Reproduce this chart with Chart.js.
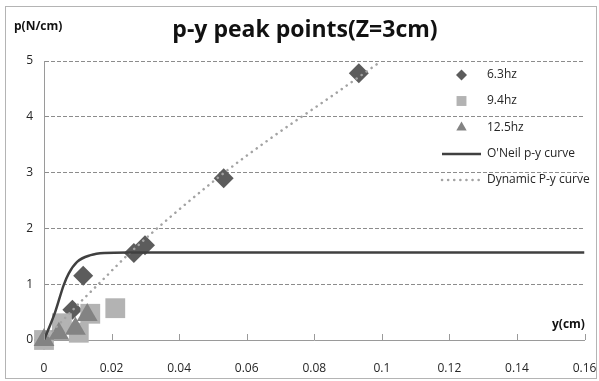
<!DOCTYPE html>
<html>
<head>
<meta charset="utf-8">
<script src="https://cdn.jsdelivr.net/npm/chart.js@4/dist/chart.umd.min.js"></script>
<style>
  html, body { margin: 0; padding: 0; background: #fff; }
  #wrap { position: relative; width: 599px; height: 381px; }
</style>
</head>
<body>
<div id="wrap"><canvas id="chart" width="599" height="381"></canvas></div>
<script>
// tick labels
const xTicks = ['0', '0.02', '0.04', '0.06', '0.08', '0.1', '0.12', '0.14', '0.16'];
const yTicks = ['0', '1', '2', '3', '4', '5'];

// peak points, y(cm) / p(N/cm)
const hz63Y = [0, 0.0084, 0.0116, 0.0266, 0.0299, 0.0532, 0.0932];
const hz63P = [0, 0.54, 1.15, 1.56, 1.70, 2.90, 4.78];
const hz94Y = [0, 0.0053, 0.0103, 0.0137, 0.0211];
const hz94P = [0, 0.30, 0.13, 0.47, 0.57];
const hz125Y = [0, 0.0044, 0.0093, 0.0128];
const hz125P = [0, 0.11, 0.20, 0.45];

// curves
const oneilY = [0, 0.0033, 0.0058, 0.0073, 0.0098, 0.0138, 0.0178, 0.025, 0.16];
const oneilP = [0, 0.50, 0.98, 1.19, 1.40, 1.52, 1.56, 1.57, 1.57];
const dynY = [0, 0.0111, 0.0166, 0.0254, 0.0511, 0.0663, 0.0861, 0.0994];
const dynP = [0, 0.70, 1.03, 1.56, 2.89, 3.58, 4.41, 4.98];

const labels = ['6.3hz', '9.4hz', '12.5hz', "O'Neil p-y curve", 'Dynamic P-y curve'];

const pts = (xs, ys) => xs.map((x, i) => ({ x: x, y: ys[i] }));
const FONT = 'Open Sans';
const TXT = '#262626';

function marker(ctx, style, x, y, r, color) {
  ctx.save();
  ctx.fillStyle = color;
  ctx.beginPath();
  if (style === 'rectRot') {
    ctx.moveTo(x, y - r); ctx.lineTo(x + r, y); ctx.lineTo(x, y + r); ctx.lineTo(x - r, y);
  } else if (style === 'rect') {
    const s = r * Math.SQRT1_2;
    ctx.rect(x - s, y - s, 2 * s, 2 * s);
  } else {
    const h = r * Math.sqrt(3) / 2;
    ctx.moveTo(x, y - r); ctx.lineTo(x + h, y + r / 2); ctx.lineTo(x - h, y + r / 2);
  }
  ctx.closePath();
  ctx.fill();
  ctx.restore();
}

const decor = {
  id: 'decor',
  beforeDraw(chart) {
    const ctx = chart.ctx;
    ctx.save();
    ctx.fillStyle = '#fff';
    ctx.fillRect(0, 0, chart.width, chart.height);
    ctx.strokeStyle = '#b4b4b4';
    ctx.lineWidth = 1;
    ctx.strokeRect(5.5, 6.5, 591, 372);
    ctx.restore();
  },
  afterDraw(chart) {
    const ctx = chart.ctx;
    const xs = chart.scales.x;
    const area = chart.chartArea;
    ctx.save();
    // inner ticks on the x axis
    ctx.strokeStyle = '#9a9a9a';
    ctx.lineWidth = 1;
    xTicks.forEach(t => {
      const px = Math.round(xs.getPixelForValue(parseFloat(t))) + 0.5;
      ctx.beginPath();
      ctx.moveTo(px, area.bottom);
      ctx.lineTo(px, area.bottom - 6);
      ctx.stroke();
    });
    // titles
    ctx.fillStyle = '#111';
    ctx.textBaseline = 'alphabetic';
    ctx.textAlign = 'center';
    ctx.font = 'bold 23px ' + FONT;
    ctx.fillText('p-y peak points(Z=3cm)', 305, 37);
    ctx.textBaseline = 'middle';
    ctx.textAlign = 'left';
    ctx.font = 'bold 12px ' + FONT;
    ctx.fillText('p(N/cm)', 14, 27);
    ctx.fillText('y(cm)', 552, 325);
    // legend
    const rows = [75, 101, 127.5, 154, 180];
    const ds = chart.data.datasets;
    ctx.font = '12px ' + FONT;
    ds.forEach((d, i) => {
      const y = rows[i];
      if (d.showLine) {
        ctx.save();
        ctx.strokeStyle = d.borderColor;
        ctx.lineWidth = d.borderWidth;
        ctx.lineCap = d.borderCapStyle || 'butt';
        ctx.setLineDash(d.borderDash || []);
        ctx.beginPath();
        ctx.moveTo(442, y);
        ctx.lineTo(481, y);
        ctx.stroke();
        ctx.restore();
      } else {
        marker(ctx, d.pointStyle, 461.5, y, d.legendRadius, d.backgroundColor);
      }
      ctx.fillStyle = TXT;
      ctx.fillText(d.label, 487, y);
    });
    ctx.restore();
  }
};

new Chart(document.getElementById('chart'), {
  type: 'scatter',
  data: {
    datasets: [
      { label: labels[0], data: pts(hz63Y, hz63P), pointStyle: 'rectRot', pointRadius: 10, legendRadius: 5.5,
        backgroundColor: '#5c5c5c', borderWidth: 0, order: 4, clip: false },
      { label: labels[1], data: pts(hz94Y, hz94P), pointStyle: 'rect', pointRadius: 14, legendRadius: 7,
        backgroundColor: '#b3b3b3', borderWidth: 0, order: 3, clip: false },
      { label: labels[2], data: pts(hz125Y, hz125P), pointStyle: 'triangle', pointRadius: 12, legendRadius: 6,
        backgroundColor: '#838383', borderWidth: 0, order: 2, clip: false },
      { label: labels[3], data: pts(oneilY, oneilP), showLine: true, pointRadius: 0,
        borderColor: '#404040', borderWidth: 2.5, cubicInterpolationMode: 'monotone', order: 0 },
      { label: labels[4], data: pts(dynY, dynP), showLine: true, pointRadius: 0,
        borderColor: '#a3a3a3', borderWidth: 2.5, borderDash: [0.1, 6], borderCapStyle: 'round',
        cubicInterpolationMode: 'monotone', order: 1 }
    ]
  },
  options: {
    responsive: false,
    animation: false,
    devicePixelRatio: 1,
    layout: { padding: { top: 61, right: 14.5, bottom: 0, left: 0 } },
    plugins: { legend: { display: false }, tooltip: { enabled: false } },
    scales: {
      x: {
        type: 'linear', min: 0, max: 0.16,
        afterBuildTicks: s => { s.ticks = xTicks.map(t => ({ value: parseFloat(t) })); },
        afterFit: s => { s.height = 41; s.paddingLeft = 0; s.paddingRight = 0; },
        ticks: { callback: (v, i) => xTicks[i], autoSkip: false, maxRotation: 0, padding: 21,
                 color: TXT, font: { family: FONT, size: 12 } },
        grid: { display: false, drawTicks: false },
        border: { display: true, color: '#9a9a9a', width: 1 }
      },
      y: {
        type: 'linear', min: 0, max: 5,
        afterBuildTicks: s => { s.ticks = yTicks.map(t => ({ value: parseFloat(t) })); },
        afterFit: s => { s.width = 44; s.paddingTop = 0; s.paddingBottom = 0; },
        ticks: { callback: (v, i) => yTicks[i], padding: 11, color: TXT, font: { family: FONT, size: 12 } },
        grid: { color: '#8c8c8c', lineWidth: 1, drawTicks: false },
        border: { display: true, color: '#9a9a9a', width: 1, dash: [4, 2] }
      }
    }
  },
  plugins: [decor]
});
</script>
</body>
</html>
